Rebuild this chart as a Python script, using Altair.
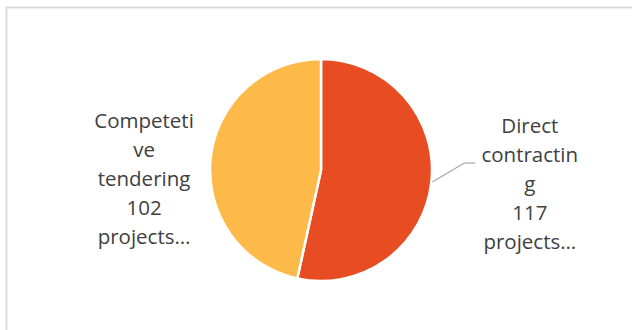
import altair as alt
import pandas as pd

# Data
categories = ["Direct contracting", "Competetive tendering"]
values = [117, 102]
label_text = ["Direct\ncontractin\ng\n117\nprojects…", "Competeti\nve\ntendering\n102\nprojects…"]
colors = ["#E84C22", "#FDBA48"]

df = pd.DataFrame({"category": categories, "value": values, "label": label_text})

CX, CY, R = 321, 170, 111

base = alt.Chart(df).transform_window(
    idx="row_number()"
).transform_joinaggregate(
    total="sum(value)"
).transform_window(
    cum="sum(value)", sort=[alt.SortField("idx")], frame=[None, 0]
).transform_calculate(
    mid="(datum.cum - datum.value / 2) / datum.total * 2 * PI"
)

pie = base.mark_arc(outerRadius=R, stroke="white", strokeWidth=2.5).encode(
    theta=alt.Theta("value:Q", stack=True),
    order=alt.Order("idx:Q"),
    color=alt.Color("category:N", scale=alt.Scale(domain=categories, range=colors), legend=None),
    x=alt.value(CX),
    y=alt.value(CY),
)

text_style = dict(font="Open Sans", fontSize=20.5, color="#404040", lineBreak="\n",
                  lineHeight=29, align="center", baseline="middle")

label_direct = base.transform_filter(alt.datum.category == categories[0]).mark_text(
    radius=210, dy=-66, **text_style
).encode(
    theta=alt.Theta("mid:Q", scale=None),
    text="label:N",
    x=alt.value(CX),
    y=alt.value(CY),
)

label_comp = base.transform_filter(alt.datum.category == categories[1]).mark_text(
    radius=178, dy=-29, **text_style
).encode(
    theta=alt.Theta("mid:Q", scale=None),
    text="label:N",
    x=alt.value(CX),
    y=alt.value(CY),
)

leader = base.transform_filter(alt.datum.category == categories[0]).transform_calculate(
    x0=f"{CX} + {R + 1} * sin(datum.mid)",
    y0=f"{CY} - {R + 1} * cos(datum.mid)",
).transform_calculate(
    x1="datum.x0 + 32",
    y1="datum.y0 - 19",
).transform_calculate(
    x2e="datum.x1 + 11",
)

leader1 = leader.mark_rule(color="#A6A6A6", strokeWidth=1.2).encode(
    x=alt.X("x0:Q", scale=None), y=alt.Y("y0:Q", scale=None),
    x2="x1:Q", y2="y1:Q",
)
leader2 = leader.mark_rule(color="#A6A6A6", strokeWidth=1.2).encode(
    x=alt.X("x1:Q", scale=None), y=alt.Y("y1:Q", scale=None),
    x2="x2e:Q", y2="y1:Q",
)

frame = alt.Chart(df).mark_rect(fill="transparent", stroke="#D9D9D9", strokeWidth=1.5).encode(
    x=alt.value(6.5), y=alt.value(7.5), x2=alt.value(700), y2=alt.value(400)
)

chart = alt.layer(frame, pie, leader1, leader2, label_direct, label_comp).properties(
    width=632, height=330, autosize="none", padding=0, background="white"
).configure_view(stroke=None)

chart.save("out.html", embed_options={"renderer": "svg", "actions": False})
